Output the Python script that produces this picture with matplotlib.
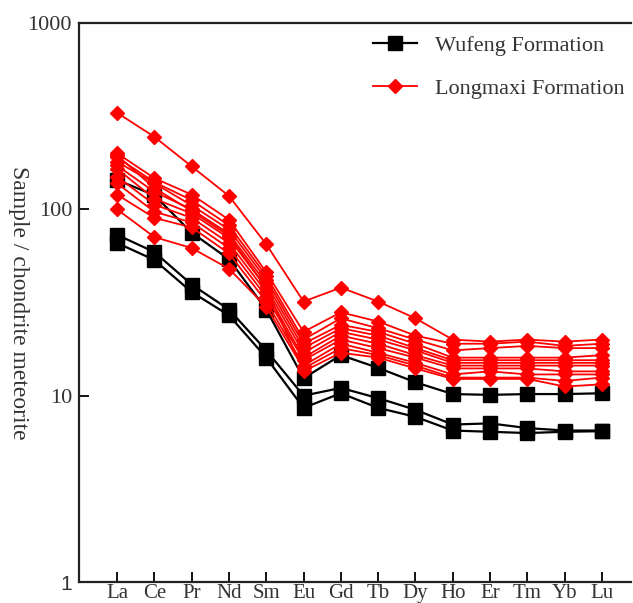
import matplotlib
matplotlib.use("Agg")
import matplotlib.pyplot as plt
import numpy as np

elements = ["La", "Ce", "Pr", "Nd", "Sm", "Eu", "Gd", "Tb", "Dy", "Ho", "Er", "Tm", "Yb", "Lu"]

wufeng_1 = [144, 119, 75, 54, 29, 12.4, 16.5, 14.1, 11.8, 10.2, 10.1, 10.2, 10.2, 10.3]
wufeng_2 = [73, 59, 39.5, 29, 17.5, 10.0, 11.0, 9.7, 8.4, 7.0, 7.1, 6.7, 6.5, 6.5]
wufeng_3 = [66, 53.5, 36, 27, 16, 8.6, 10.3, 8.6, 7.7, 6.5, 6.4, 6.3, 6.4, 6.45]

longmaxi_1 = [330, 245, 170, 118, 65, 32, 38, 32, 26, 20, 19.5, 20, 19.5, 20]
longmaxi_2 = [200, 147, 120, 88, 46, 22, 28, 25, 21, 19, 19, 19.5, 18.5, 19]
longmaxi_3 = [190, 140, 112, 82, 44, 20, 26, 23, 20, 17.5, 18, 18.5, 18, 18]
longmaxi_4 = [180, 138, 105, 78, 42, 19, 24, 22, 19, 16, 16, 16, 16, 16.5]
longmaxi_5 = [172, 124, 100, 74, 40, 18, 23, 21, 18, 15.5, 15.5, 15.5, 15.5, 15.5]
longmaxi_6 = [165, 114, 95, 70, 38, 17, 22, 20, 17.5, 15, 15, 15, 15, 15]
longmaxi_7 = [150, 106, 90, 66, 36, 16, 21, 19, 16.5, 14.5, 14.5, 14.5, 14.5, 14.5]
longmaxi_8 = [138, 97, 85, 62, 34, 15.5, 20, 18, 16, 14, 14, 14, 13.5, 13.5]
longmaxi_9 = [120, 90, 80, 58, 32, 14.5, 19, 17, 15, 13, 13.5, 13, 13, 13]
longmaxi_10 = [100, 71, 62, 48, 30, 14, 18, 16.5, 14.5, 12.5, 12.5, 12.5, 12, 12.5]
longmaxi_11 = [195, 130, 98, 72, 38, 13.5, 17, 16, 14, 12.3, 12.3, 12.3, 11.2, 11.5]

wufeng = [wufeng_1, wufeng_2, wufeng_3]
longmaxi = [longmaxi_1, longmaxi_2, longmaxi_3, longmaxi_4, longmaxi_5, longmaxi_6,
            longmaxi_7, longmaxi_8, longmaxi_9, longmaxi_10, longmaxi_11]

ytick_vals = [1, 10, 100, 1000]
ytick_labels = ["1", "10", "100", "1000"]

serif = ["Liberation Serif", "DejaVu Serif"]
txt_color = "#333333"

fig = plt.figure(figsize=(6.33, 6.03), dpi=100)
ax = fig.add_axes([79 / 633, 21 / 603, 552 / 633, 559 / 603])

x = np.arange(len(elements))
for i, s in enumerate(wufeng):
    ax.plot(x, s, color="black", lw=1.6, marker="s", ms=10.5, mfc="black", mec="black",
            zorder=2, label="Wufeng Formation" if i == 0 else None)
for i, s in enumerate(longmaxi):
    ax.plot(x, s, color="#ff0000", lw=1.3, marker="D", ms=7.5, mfc="#ff0000", mec="#ff0000",
            zorder=3, label="Longmaxi Formation" if i == 0 else None)

ax.set_yscale("log")
ax.set_ylim(1, 1000)
ax.set_xlim(-1.02, 13.78)
ax.set_yticks(ytick_vals)
ax.set_yticklabels(ytick_labels)
ax.yaxis.set_minor_locator(matplotlib.ticker.NullLocator())
ax.set_xticks(x)
ax.set_xticklabels(elements)

for lab in ax.get_xticklabels():
    lab.set_fontfamily(serif)
    lab.set_fontsize(15)
    lab.set_color(txt_color)
for lab in ax.get_yticklabels():
    lab.set_fontfamily(serif)
    lab.set_fontsize(16)
    lab.set_color(txt_color)
ax.get_yticklabels()[0].set_fontfamily(["Liberation Sans", "DejaVu Sans"])
ax.get_yticklabels()[0].set_fontsize(15)

ax.tick_params(axis="x", direction="in", length=7.5, width=1.3, pad=1.5)
ax.tick_params(axis="y", direction="in", length=7, width=1.3, pad=5)

for side in ["left", "bottom", "top"]:
    ax.spines[side].set_linewidth(1.6)
    ax.spines[side].set_color("#222222")
ax.spines["right"].set_visible(False)

ax.set_ylabel("Sample / chondrite meteorite", rotation=270, fontfamily=serif,
              fontsize=17, color=txt_color, va="center")
ax.yaxis.set_label_coords(-0.11, 0.5)

leg = ax.legend(loc="upper left", bbox_to_anchor=(373 / 633, 1 - 35 / 603),
                bbox_transform=fig.transFigure, frameon=False, borderpad=0,
                borderaxespad=0, handlelength=2.0, handletextpad=0.8,
                labelspacing=1.02, prop={"family": serif, "size": 16})
for t in leg.get_texts():
    t.set_color(txt_color)

fig.savefig("out.png", dpi=100)
